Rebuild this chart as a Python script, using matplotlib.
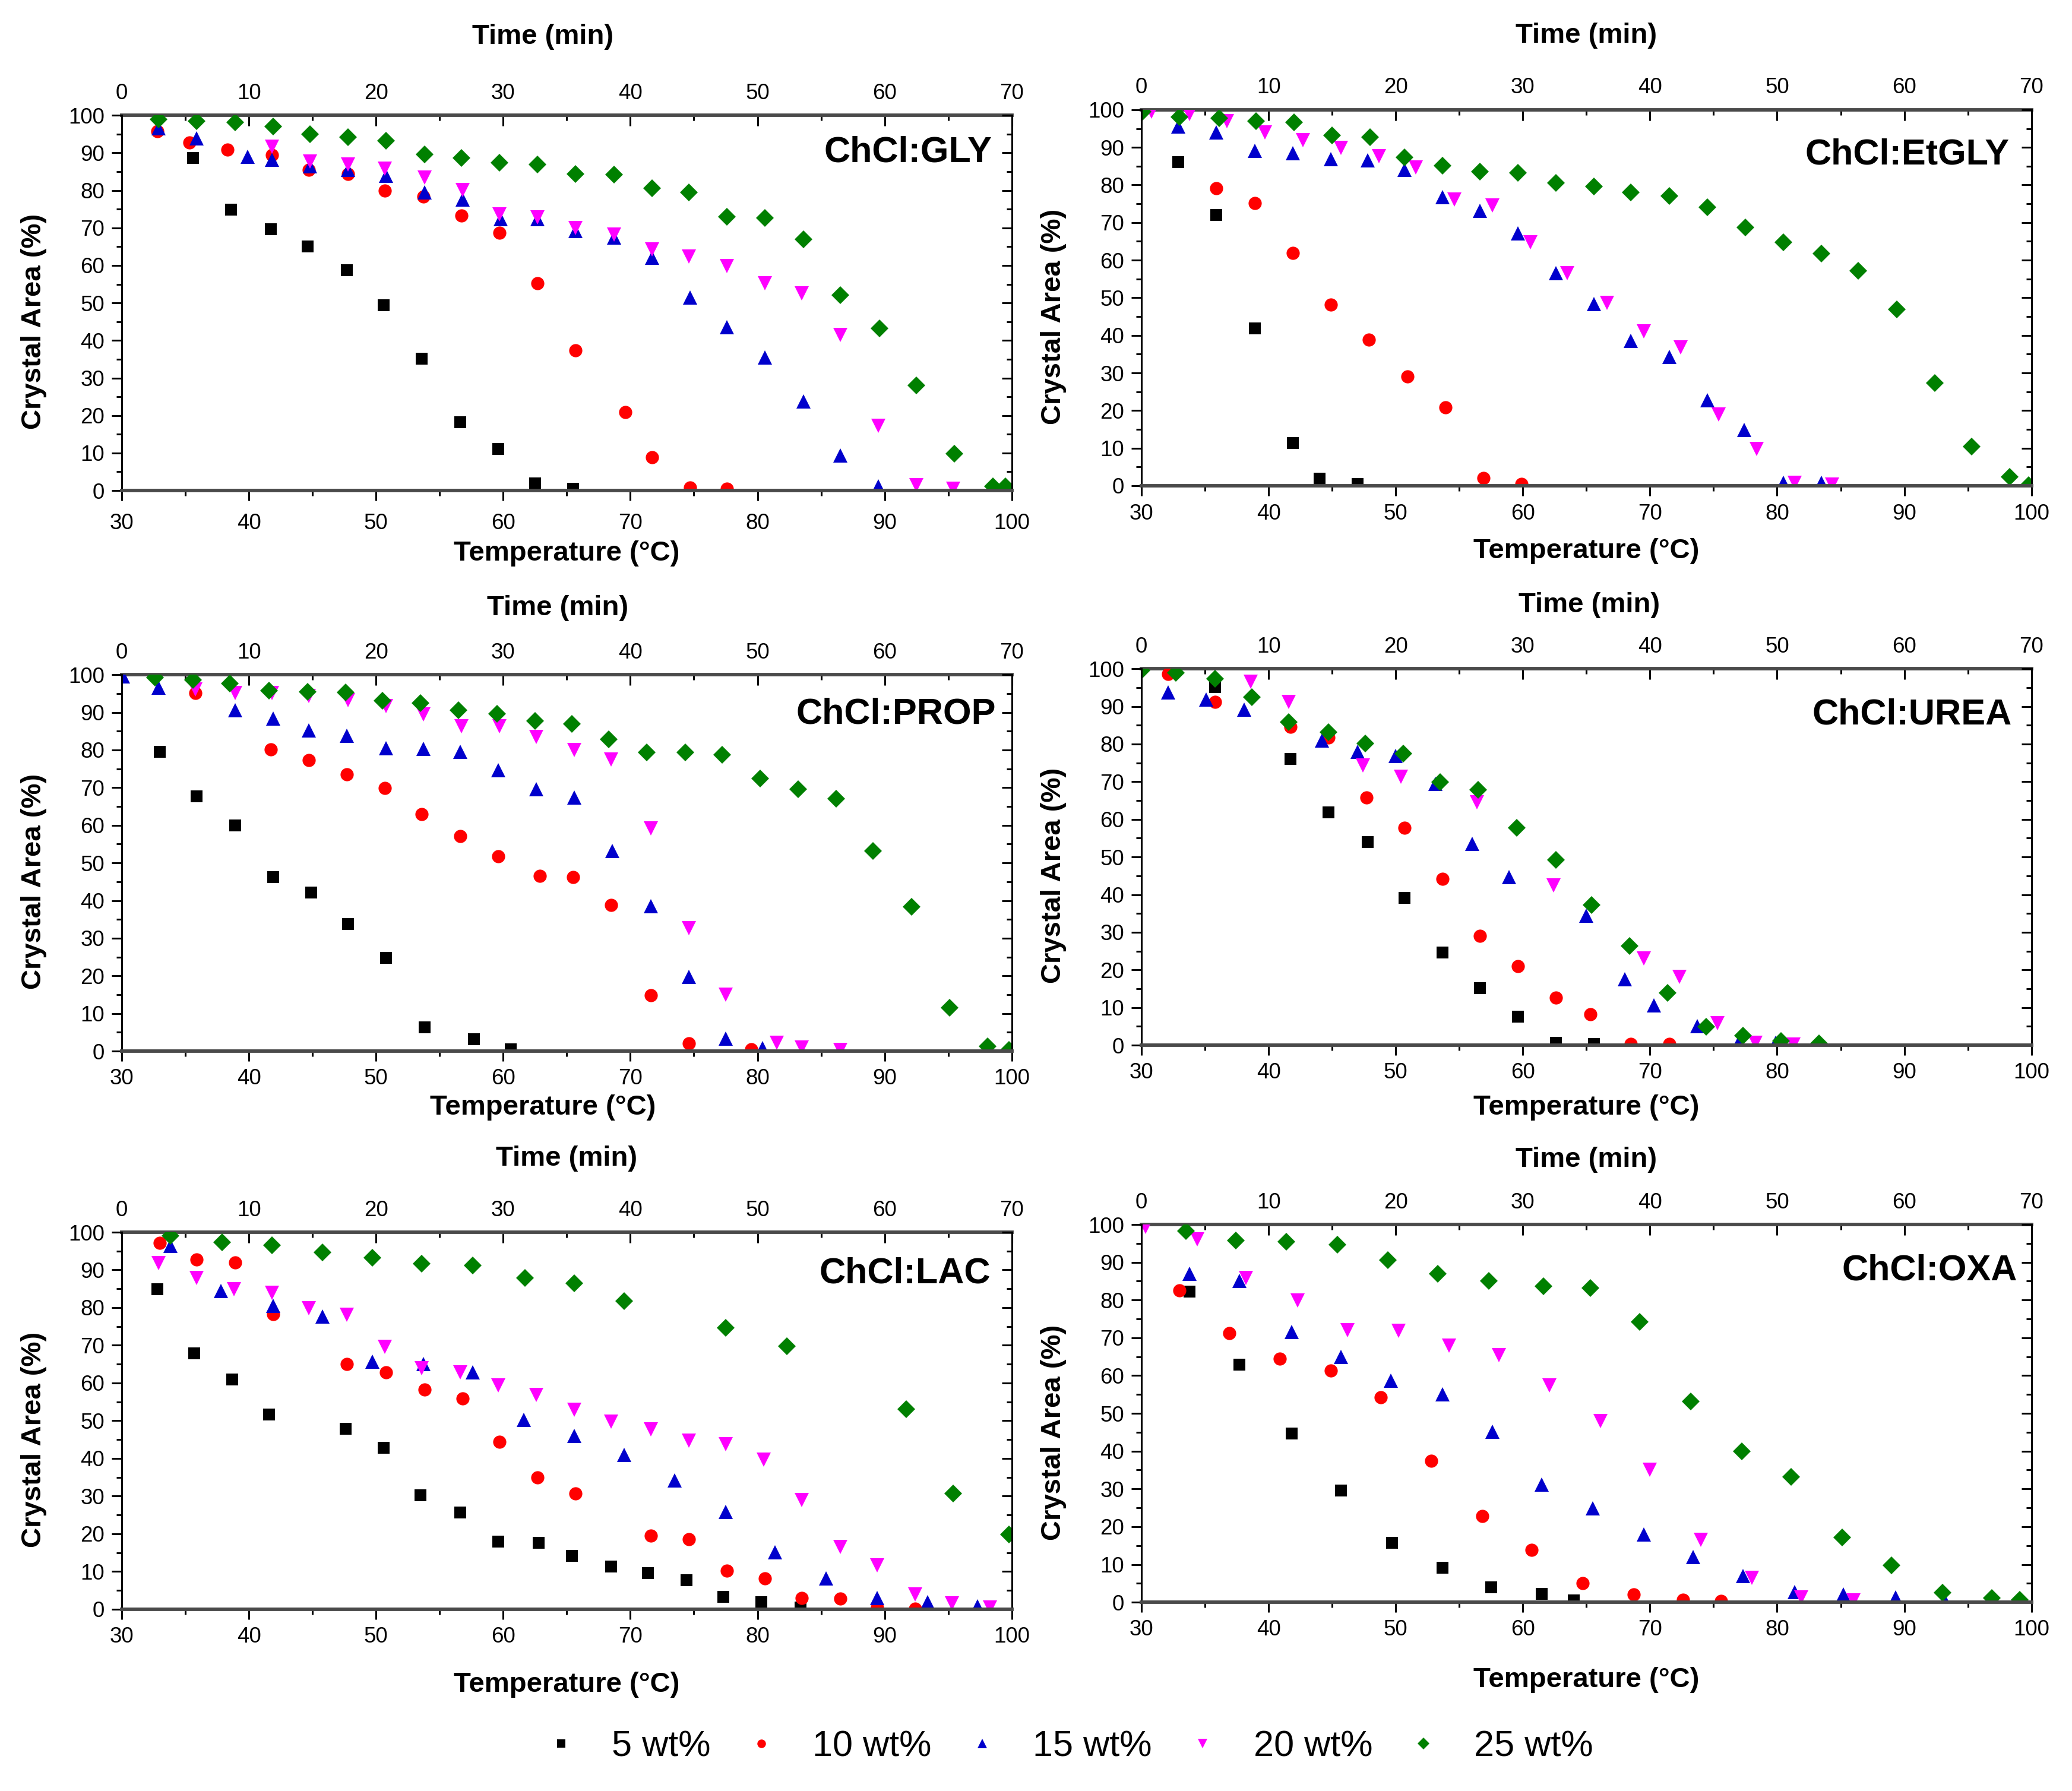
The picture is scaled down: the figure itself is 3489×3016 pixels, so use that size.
import matplotlib
matplotlib.use('Agg')
import matplotlib.pyplot as plt
from matplotlib.ticker import FixedLocator
from matplotlib.lines import Line2D

plt.rcParams['font.family'] = ['Liberation Sans', 'DejaVu Sans']

# ---------------- data ----------------
series_labels = ['5 wt%', '10 wt%', '15 wt%', '20 wt%', '25 wt%']
panel_titles = ['ChCl:GLY', 'ChCl:EtGLY', 'ChCl:PROP', 'ChCl:UREA', 'ChCl:LAC', 'ChCl:OXA']
temp_ticks = [30, 40, 50, 60, 70, 80, 90, 100]
time_ticks = [0, 10, 20, 30, 40, 50, 60, 70]
area_ticks = [0, 10, 20, 30, 40, 50, 60, 70, 80, 90, 100]

# ChCl:GLY
g5_T = [35.6, 38.6, 41.7, 44.6, 47.7, 50.6, 53.6, 56.6, 59.6, 62.5, 65.5]
g5_A = [88.7, 74.9, 69.7, 65.1, 58.8, 49.4, 35.1, 18.2, 11.1, 1.9, 0.5]
g10_T = [32.8, 35.3, 38.3, 41.8, 44.7, 47.8, 50.7, 53.7, 56.7, 59.7, 62.7, 65.7, 69.6, 71.7, 74.7, 77.6]
g10_A = [95.8, 92.7, 90.8, 89.4, 85.4, 84.4, 79.9, 78.3, 73.3, 68.7, 55.3, 37.3, 20.9, 8.9, 0.8, 0.5]
g15_T = [32.9, 35.9, 39.9, 41.8, 44.8, 47.8, 50.8, 53.8, 56.8, 59.8, 62.7, 65.7, 68.7, 71.7, 74.7, 77.6, 80.6, 83.6, 86.5, 89.5]
g15_A = [96.6, 93.8, 88.9, 88.2, 86.4, 85.4, 83.9, 79.4, 77.6, 72.3, 72.3, 69.2, 67.4, 62.1, 51.5, 43.5, 35.4, 23.7, 9.3, 1.2]
g20_T = [41.8, 44.8, 47.8, 50.7, 53.8, 56.8, 59.7, 62.7, 65.7, 68.7, 71.7, 74.6, 77.6, 80.6, 83.5, 86.5, 89.5, 92.5, 95.4]
g20_A = [91.7, 87.7, 86.9, 85.8, 83.4, 80.1, 73.6, 72.8, 69.9, 68.2, 64.2, 62.3, 59.9, 55.3, 52.5, 41.5, 17.2, 1.5, 0.5]
g25_T = [32.9, 35.9, 38.9, 41.9, 44.8, 47.8, 50.8, 53.8, 56.7, 59.7, 62.7, 65.7, 68.7, 71.7, 74.6, 77.6, 80.6, 83.6, 86.5, 89.6, 92.5, 95.5, 98.5, 99.5]
g25_A = [98.9, 98.4, 98.2, 97.0, 94.9, 94.2, 93.2, 89.6, 88.7, 87.3, 86.9, 84.4, 84.2, 80.6, 79.5, 73.0, 72.7, 66.9, 52.1, 43.2, 28.0, 9.9, 1.1, 1.1]

# ChCl:EtGLY
e5_T = [32.9, 35.9, 38.9, 41.9, 44.0, 47.0]
e5_A = [86.1, 72.1, 41.8, 11.3, 1.9, 0.4]
e10_T = [35.9, 38.9, 41.9, 44.9, 47.9, 50.9, 53.9, 56.9, 59.9]
e10_A = [79.1, 75.2, 61.9, 48.1, 38.9, 29.0, 20.9, 2.0, 0.5]
e15_T = [32.9, 35.9, 38.9, 41.9, 44.9, 47.8, 50.7, 53.7, 56.6, 59.6, 62.6, 65.6, 68.5, 71.5, 74.5, 77.4, 80.5, 83.5]
e15_A = [95.6, 93.9, 89.1, 88.4, 86.8, 86.5, 84.0, 76.8, 73.1, 67.1, 56.5, 48.4, 38.5, 34.2, 22.7, 14.9, 0.8, 0.8]
e20_T = [30.8, 33.8, 36.7, 39.7, 42.7, 45.7, 48.7, 51.6, 54.6, 57.6, 60.6, 63.5, 66.6, 69.5, 72.4, 75.4, 78.4, 81.4, 84.3]
e20_A = [99.5, 98.8, 97.0, 93.9, 92.0, 89.9, 87.7, 84.7, 76.2, 74.5, 64.8, 56.5, 48.6, 41.0, 36.8, 19.0, 9.8, 0.8, 0.3]
e25_T = [30.1, 33.0, 36.1, 39.0, 42.0, 45.0, 48.0, 50.7, 53.7, 56.6, 59.6, 62.6, 65.6, 68.5, 71.5, 74.5, 77.5, 80.5, 83.5, 86.4, 89.4, 92.4, 95.3, 98.3, 99.8]
e25_A = [99.5, 98.1, 97.7, 97.0, 96.6, 93.2, 92.7, 87.3, 85.1, 83.5, 83.3, 80.6, 79.6, 78.0, 77.0, 74.1, 68.7, 64.8, 61.7, 57.2, 46.9, 27.3, 10.4, 2.3, 0.1]

# ChCl:PROP
p5_T = [33.0, 35.9, 38.9, 41.9, 44.9, 47.8, 50.8, 53.8, 57.7, 60.6]
p5_A = [79.5, 67.7, 59.9, 46.3, 42.1, 33.7, 24.8, 6.3, 3.1, 0.5]
p10_T = [35.8, 41.7, 44.7, 47.7, 50.7, 53.6, 56.6, 59.6, 62.9, 65.5, 68.5, 71.6, 74.6, 79.5]
p10_A = [95.1, 80.2, 77.3, 73.5, 69.9, 62.9, 57.1, 51.8, 46.6, 46.2, 38.8, 14.8, 2.0, 0.5]
p15_T = [30.1, 32.9, 38.9, 41.9, 44.7, 47.7, 50.8, 53.7, 56.6, 59.6, 62.6, 65.6, 68.6, 71.6, 74.6, 77.5, 80.4]
p15_A = [99.6, 96.5, 90.5, 88.3, 85.2, 83.8, 80.5, 80.3, 79.5, 74.7, 69.5, 67.3, 53.2, 38.5, 19.7, 3.3, 0.8]
p20_T = [35.8, 38.9, 41.8, 44.7, 47.8, 50.8, 53.7, 56.7, 59.7, 62.6, 65.6, 68.5, 71.6, 74.6, 77.5, 81.5, 83.5, 86.5]
p20_A = [96.1, 95.2, 95.2, 94.4, 93.3, 91.7, 89.5, 86.3, 86.3, 83.5, 80.0, 77.5, 59.2, 32.6, 15.0, 2.3, 1.0, 0.4]
p25_T = [32.6, 35.6, 38.5, 41.6, 44.6, 47.6, 50.5, 53.5, 56.5, 59.5, 62.5, 65.4, 68.3, 71.3, 74.3, 77.2, 80.2, 83.2, 86.2, 89.1, 92.1, 95.1, 98.1, 99.8]
p25_A = [99.3, 98.6, 97.7, 95.8, 95.4, 95.3, 93.1, 92.4, 90.6, 89.6, 87.7, 87.0, 82.8, 79.4, 79.3, 78.8, 72.4, 69.6, 67.1, 53.2, 38.3, 11.6, 1.2, 0.4]

# ChCl:UREA
u5_T = [35.8, 41.7, 44.7, 47.8, 50.7, 53.7, 56.6, 59.6, 62.6, 65.6]
u5_A = [95.1, 76.1, 61.8, 54.0, 39.1, 24.6, 15.1, 7.6, 0.7, 0.4]
u10_T = [32.1, 35.8, 41.7, 44.7, 47.7, 50.7, 53.7, 56.6, 59.6, 62.6, 65.3, 68.5, 71.5]
u10_A = [98.6, 91.2, 84.5, 81.7, 65.8, 57.7, 44.2, 29.1, 21.0, 12.7, 8.2, 0.4, 0.4]
u15_T = [32.1, 35.1, 38.1, 44.2, 47.0, 50.0, 53.1, 56.0, 58.9, 65.0, 68.0, 70.3, 73.7, 77.0, 79.9, 83.2]
u15_A = [93.7, 91.9, 89.1, 81.0, 78.0, 76.8, 69.4, 53.5, 44.7, 34.4, 17.6, 10.6, 5.1, 0.8, 0.7, 0.7]
u20_T = [38.6, 41.6, 47.4, 50.4, 56.4, 62.4, 69.5, 72.3, 75.3, 78.3, 81.3]
u20_A = [96.6, 91.2, 74.3, 71.3, 64.6, 42.4, 23.1, 18.1, 5.8, 0.7, 0.2]
u25_T = [30.0, 32.7, 35.8, 38.7, 41.6, 44.7, 47.6, 50.6, 53.5, 56.5, 59.5, 62.6, 65.4, 68.4, 71.4, 74.4, 77.3, 80.3, 83.3]
u25_A = [99.6, 98.9, 97.3, 92.5, 85.9, 83.1, 80.1, 77.5, 69.9, 67.8, 57.7, 49.3, 37.3, 26.3, 13.9, 4.9, 2.5, 1.1, 0.5]

# ChCl:LAC
l5_T = [32.8, 35.7, 38.7, 41.6, 47.6, 50.6, 53.5, 56.6, 59.6, 62.8, 65.4, 68.5, 71.4, 74.4, 77.3, 80.3, 83.4]
l5_A = [84.9, 67.9, 61.0, 51.7, 47.8, 42.9, 30.2, 25.7, 17.9, 17.7, 14.2, 11.3, 9.6, 7.7, 3.3, 1.9, 0.5]
l10_T = [33.0, 35.9, 38.9, 41.9, 47.7, 50.8, 53.8, 56.8, 59.7, 62.7, 65.7, 71.6, 74.6, 77.6, 80.6, 83.5, 86.5, 89.4, 92.4]
l10_A = [97.2, 92.8, 92.0, 78.2, 65.0, 62.9, 58.2, 55.9, 44.4, 34.9, 30.7, 19.5, 18.6, 10.2, 8.1, 3.0, 2.8, 0.4, 0.1]
l15_T = [33.8, 37.8, 41.9, 45.8, 49.7, 53.7, 57.6, 61.6, 65.6, 69.5, 73.5, 77.5, 81.4, 85.4, 89.4, 93.4, 97.3]
l15_A = [96.3, 84.4, 80.5, 77.7, 65.7, 65.0, 62.9, 50.3, 45.9, 40.9, 34.2, 25.8, 15.1, 8.1, 3.0, 1.8, 0.7]
l20_T = [32.9, 35.9, 38.8, 41.8, 44.7, 47.7, 50.7, 53.6, 56.6, 59.6, 62.6, 65.6, 68.5, 71.6, 74.6, 77.5, 80.5, 83.5, 86.5, 89.4, 92.4, 95.3, 98.3]
l20_A = [91.8, 87.9, 84.9, 84.0, 79.8, 78.1, 69.6, 64.0, 62.9, 59.4, 56.8, 52.9, 49.7, 47.7, 44.7, 43.7, 39.7, 29.0, 16.5, 11.6, 3.9, 1.5, 0.4]
l25_T = [33.8, 37.9, 41.8, 45.8, 49.7, 53.6, 57.6, 61.7, 65.6, 69.5, 77.5, 82.3, 91.7, 95.4, 99.8]
l25_A = [99.0, 97.4, 96.5, 94.6, 93.2, 91.6, 91.2, 87.9, 86.4, 81.8, 74.7, 69.8, 53.0, 30.7, 19.8]

# ChCl:OXA
o5_T = [33.8, 37.7, 41.8, 45.7, 49.7, 53.7, 57.5, 61.5, 64.0]
o5_A = [82.2, 62.9, 44.6, 29.5, 15.8, 9.1, 3.9, 2.2, 0.5]
o10_T = [33.0, 36.9, 40.9, 44.9, 48.8, 52.8, 56.8, 60.7, 64.7, 68.7, 72.6, 75.6]
o10_A = [82.6, 71.2, 64.4, 61.4, 54.2, 37.5, 22.8, 13.8, 5.1, 2.0, 0.7, 0.4]
o15_T = [33.8, 37.7, 41.8, 45.7, 49.6, 53.7, 57.6, 61.5, 65.5, 69.5, 73.4, 77.3, 81.4, 85.2, 89.3, 93.2]
o15_A = [86.9, 85.1, 71.6, 64.9, 58.6, 55.1, 45.1, 31.2, 24.9, 18.0, 11.9, 7.0, 2.7, 2.1, 1.2, 0.4]
o20_T = [30.3, 34.4, 38.2, 42.3, 46.2, 50.2, 54.2, 58.1, 62.1, 66.1, 70.0, 74.0, 78.0, 81.9, 86.0]
o20_A = [99.3, 96.1, 85.9, 79.9, 72.1, 71.9, 67.9, 65.4, 57.4, 47.9, 35.1, 16.5, 6.5, 1.2, 0.5]
o25_T = [33.5, 37.4, 41.4, 45.4, 49.4, 53.3, 57.3, 61.6, 65.3, 69.2, 73.2, 77.2, 81.1, 85.1, 89.0, 93.0, 96.9, 99.1]
o25_A = [98.2, 95.8, 95.4, 94.6, 90.5, 87.0, 85.1, 83.7, 83.2, 74.2, 53.1, 40.0, 33.2, 17.2, 9.8, 2.5, 1.1, 0.7]

panel_data = [
    [(g5_T, g5_A), (g10_T, g10_A), (g15_T, g15_A), (g20_T, g20_A), (g25_T, g25_A)],
    [(e5_T, e5_A), (e10_T, e10_A), (e15_T, e15_A), (e20_T, e20_A), (e25_T, e25_A)],
    [(p5_T, p5_A), (p10_T, p10_A), (p15_T, p15_A), (p20_T, p20_A), (p25_T, p25_A)],
    [(u5_T, u5_A), (u10_T, u10_A), (u15_T, u15_A), (u20_T, u20_A), (u25_T, u25_A)],
    [(l5_T, l5_A), (l10_T, l10_A), (l15_T, l15_A), (l20_T, l20_A), (l25_T, l25_A)],
    [(o5_T, o5_A), (o10_T, o10_A), (o15_T, o15_A), (o20_T, o20_A), (o25_T, o25_A)],
]

# ---------------- style ----------------
colors = ['#000000', '#ff0000', '#0000cc', '#ff00ff', '#008000']
markers = ['s', 'o', '^', 'v', 'D']
msizes = [14.5, 16, 17.5, 17.5, 15]

panel_rects = [
    (0.0588, 0.7261, 0.4295, 0.2095),
    (0.5509, 0.7288, 0.4295, 0.2099),
    (0.0588, 0.4131, 0.4295, 0.2102),
    (0.5509, 0.4164, 0.4295, 0.2102),
    (0.0588, 0.1015, 0.4295, 0.2105),
    (0.5509, 0.1054, 0.4295, 0.2109),
]
temp_xy = [(0.5, -0.168), (0.5, -0.174), (0.473, -0.150), (0.5, -0.166), (0.5, -0.200), (0.5, -0.205)]
time_xy = [(0.473, 1.209), (0.5, 1.198), (0.49, 1.177), (0.503, 1.169), (0.5, 1.196), (0.5, 1.172)]
title_xy = [(0.978, 0.90), (0.975, 0.88), (0.982, 0.894), (0.978, 0.877), (0.976, 0.89), (0.984, 0.877)]
bottom_pad = [15, 10, 9, 9, 9, 9]

minor_temp = [35, 45, 55, 65, 75, 85, 95]
minor_time = [5, 15, 25, 35, 45, 55, 65]
minor_area = [5, 15, 25, 35, 45, 55, 65, 75, 85, 95]

TICK_FS = 26.5
LABEL_FS = 34
TITLE_FS = 44
LEG_FS = 44

fig = plt.figure(figsize=(34.89, 30.16), dpi=100)

for i, rect in enumerate(panel_rects):
    ax = fig.add_axes(rect)
    for j, (T, A) in enumerate(panel_data[i]):
        ax.plot(T, A, linestyle='none', marker=markers[j], markersize=msizes[j],
                color=colors[j], markeredgewidth=0, zorder=2 + 0.01 * j)
    ax.set_xlim(30, 100)
    ax.set_ylim(0, 100)
    ax.xaxis.set_major_locator(FixedLocator(temp_ticks))
    ax.xaxis.set_minor_locator(FixedLocator(minor_temp))
    ax.yaxis.set_major_locator(FixedLocator(area_ticks))
    ax.yaxis.set_minor_locator(FixedLocator(minor_area))
    ax.tick_params(axis='both', which='major', direction='out', length=12, width=2.2,
                   labelsize=TICK_FS, top=False, right=False)
    ax.tick_params(axis='both', which='minor', direction='out', length=6.5, width=2.2,
                   top=False, right=False)
    ax.tick_params(axis='x', which='major', pad=bottom_pad[i])
    ax.tick_params(axis='y', which='major', pad=9)

    ax.spines['top'].set_visible(False)
    ax.spines['bottom'].set_linewidth(4.2)
    ax.spines['bottom'].set_color('#4a4a4a')
    ax.spines['left'].set_linewidth(2.2)
    ax.spines['right'].set_linewidth(2.2)

    # top axis: time (min) = temperature - 30 (1 °C/min heating)
    secx = ax.secondary_xaxis('top', functions=(lambda t: t - 30, lambda m: m + 30))
    secx.xaxis.set_major_locator(FixedLocator(time_ticks))
    secx.xaxis.set_minor_locator(FixedLocator(minor_time))
    secx.tick_params(axis='x', which='major', direction='in', length=13, width=2.2,
                     labelsize=TICK_FS, pad=14)
    secx.tick_params(axis='x', which='minor', direction='in', length=6.5, width=2.2)
    secx.spines['top'].set_linewidth(4.2)
    secx.spines['top'].set_color('#4a4a4a')

    # right axis: inward ticks only
    secy = ax.secondary_yaxis('right')
    secy.yaxis.set_major_locator(FixedLocator(area_ticks))
    secy.yaxis.set_minor_locator(FixedLocator(minor_area))
    secy.tick_params(axis='y', which='major', direction='in', length=12, width=2.2, labelright=False)
    secy.tick_params(axis='y', which='minor', direction='in', length=6.5, width=2.2, labelright=False)
    secy.spines['right'].set_linewidth(2.2)

    ax.text(time_xy[i][0], time_xy[i][1], 'Time (min)', transform=ax.transAxes,
            ha='center', va='center', fontsize=LABEL_FS, fontweight='bold')
    ax.set_xlabel('Temperature (°C)', fontsize=LABEL_FS, fontweight='bold', va='center')
    ax.xaxis.set_label_coords(*temp_xy[i])
    ax.set_ylabel('Crystal Area (%)', fontsize=LABEL_FS, fontweight='bold', va='center')
    ax.yaxis.set_label_coords(-0.099, 0.45)

    ax.text(title_xy[i][0], title_xy[i][1], panel_titles[i], transform=ax.transAxes,
            ha='right', va='center', fontsize=TITLE_FS, fontweight='bold')

handles = [Line2D([], [], linestyle='none', marker=markers[j], markersize=msizes[j] * 0.65,
                  color=colors[j], markeredgewidth=0) for j in range(5)]
fig.legend(handles, series_labels, loc='center', bbox_to_anchor=(0.5155, 0.0245), ncol=5,
           frameon=False, fontsize=LEG_FS, handlelength=1.0, handletextpad=0.9,
           columnspacing=0.9)

fig.savefig('out.png', dpi=100)
